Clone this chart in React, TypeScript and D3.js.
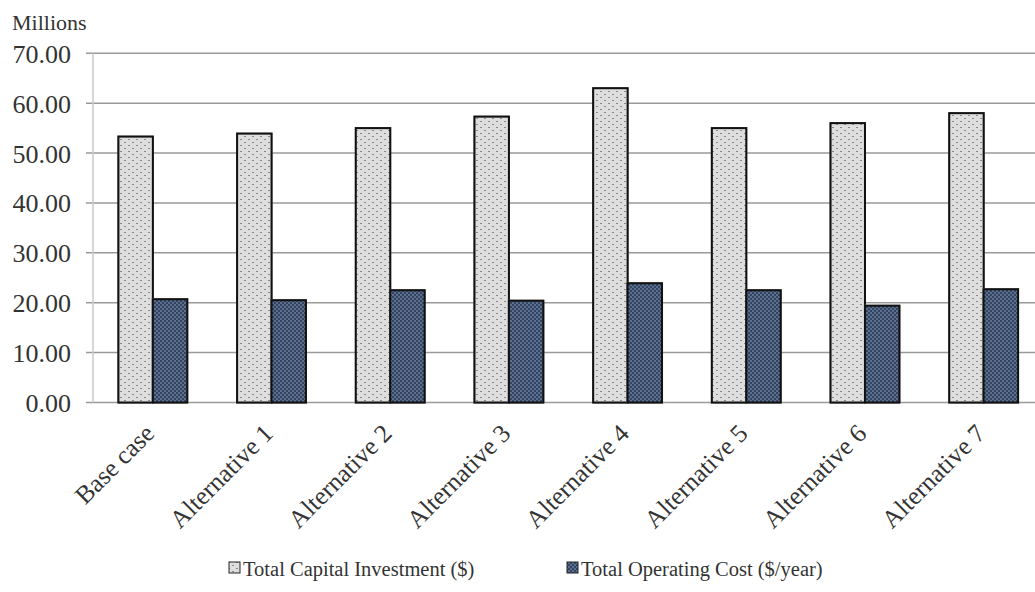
import * as d3 from 'd3';

const categories = ['Base case', 'Alternative 1', 'Alternative 2', 'Alternative 3', 'Alternative 4', 'Alternative 5', 'Alternative 6', 'Alternative 7'];
const capitalInvestment = [53.3, 53.9, 55.0, 57.3, 63.0, 55.0, 56.0, 58.0];
const operatingCost = [20.7, 20.5, 22.5, 20.4, 23.9, 22.5, 19.4, 22.7];
const yTicks = [0, 10, 20, 30, 40, 50, 60, 70];
const seriesNames = ['Total Capital Investment ($)', 'Total Operating Cost ($/year)'];

const W = 1035;
const H = 592;
const FONT = '"Liberation Serif", "Times New Roman", serif';

export default function App() {
  const x = d3.scaleBand<string>().domain(categories).range([93.5, 1043]).paddingInner(0.42).paddingOuter(0.21);
  const y = d3.scaleLinear().domain([0, 70]).range([402.5, 53.3]);
  const bw = x.bandwidth() / 2;
  const series = [capitalInvestment, operatingCost];
  const fills = ['url(#pLight)', 'url(#pDark)'];

  return (
    <svg width={W} height={H} style={{ position: 'absolute', left: 0, top: 0, background: '#fff', fontFamily: FONT }}>
      <defs>
        <pattern id="pLight" width="8" height="6" patternUnits="userSpaceOnUse">
          <rect width="8" height="6" fill="#dedede" />
          <rect x="0" y="1" width="2" height="1" fill="#8a8a8a" />
          <rect x="4" y="4" width="2" height="1" fill="#8a8a8a" />
        </pattern>
        <pattern id="pDark" width="4" height="4" patternUnits="userSpaceOnUse">
          <rect width="4" height="4" fill="#5b7090" />
          <rect x="0" y="0" width="2" height="2" fill="#34445e" />
          <rect x="2" y="2" width="2" height="2" fill="#34445e" />
        </pattern>
        <filter id="soft" x="-20%" y="-5%" width="140%" height="110%">
          <feGaussianBlur stdDeviation="0.6" />
        </filter>
      </defs>

      {/* grid + ticks */}
      {yTicks.map(t => (
        <g key={t}>
          <line x1={86} x2={W} y1={y(t)} y2={y(t)} stroke="#9a9a9a" strokeWidth={1.5} />
          <text x={71} y={y(t) + 9.5} textAnchor="end" fontSize={26} fill="#333">
            {t.toFixed(2)}
          </text>
        </g>
      ))}
      <line x1={93} x2={93} y1={y(70)} y2={y(0)} stroke="#c8c8c8" strokeWidth={1.5} />
      <text x={12} y={30} fontSize={22} fill="#333">Millions</text>

      {/* bars */}
      {series.map((vals, si) => (
        <g key={si}>
          {categories.map((c, i) => {
            const bx = (x(c) ?? 0) + si * bw;
            const by = y(vals[i]);
            const bh = y(0) - by;
            return (
              <g key={c}>
                <rect x={bx - 1} y={by - 1} width={bw + 2} height={bh + 2} fill="#777" filter="url(#soft)" />
                <rect x={bx} y={by} width={bw} height={bh} fill={fills[si]} stroke="#111" strokeWidth={2} />
              </g>
            );
          })}
        </g>
      ))}

      {/* category labels */}
      {categories.map(c => {
        const cx = (x(c) ?? 0) + x.bandwidth() / 2 + 3;
        const cy = 435;
        return (
          <text key={c} x={cx} y={cy} transform={`rotate(-45 ${cx} ${cy})`} textAnchor="end"
            fontSize={25.5} fill="#333">
            {c}
          </text>
        );
      })}

      {/* legend */}
      {seriesNames.map((n, i) => {
        const lx = [229, 567][i];
        return (
          <g key={n}>
            <rect x={lx} y={562} width={11} height={11} fill={fills[i]} stroke="#222" strokeWidth={1} />
            <text x={lx + 14} y={576} fontSize={20.5} fill="#333">{n}</text>
          </g>
        );
      })}
    </svg>
  );
}
